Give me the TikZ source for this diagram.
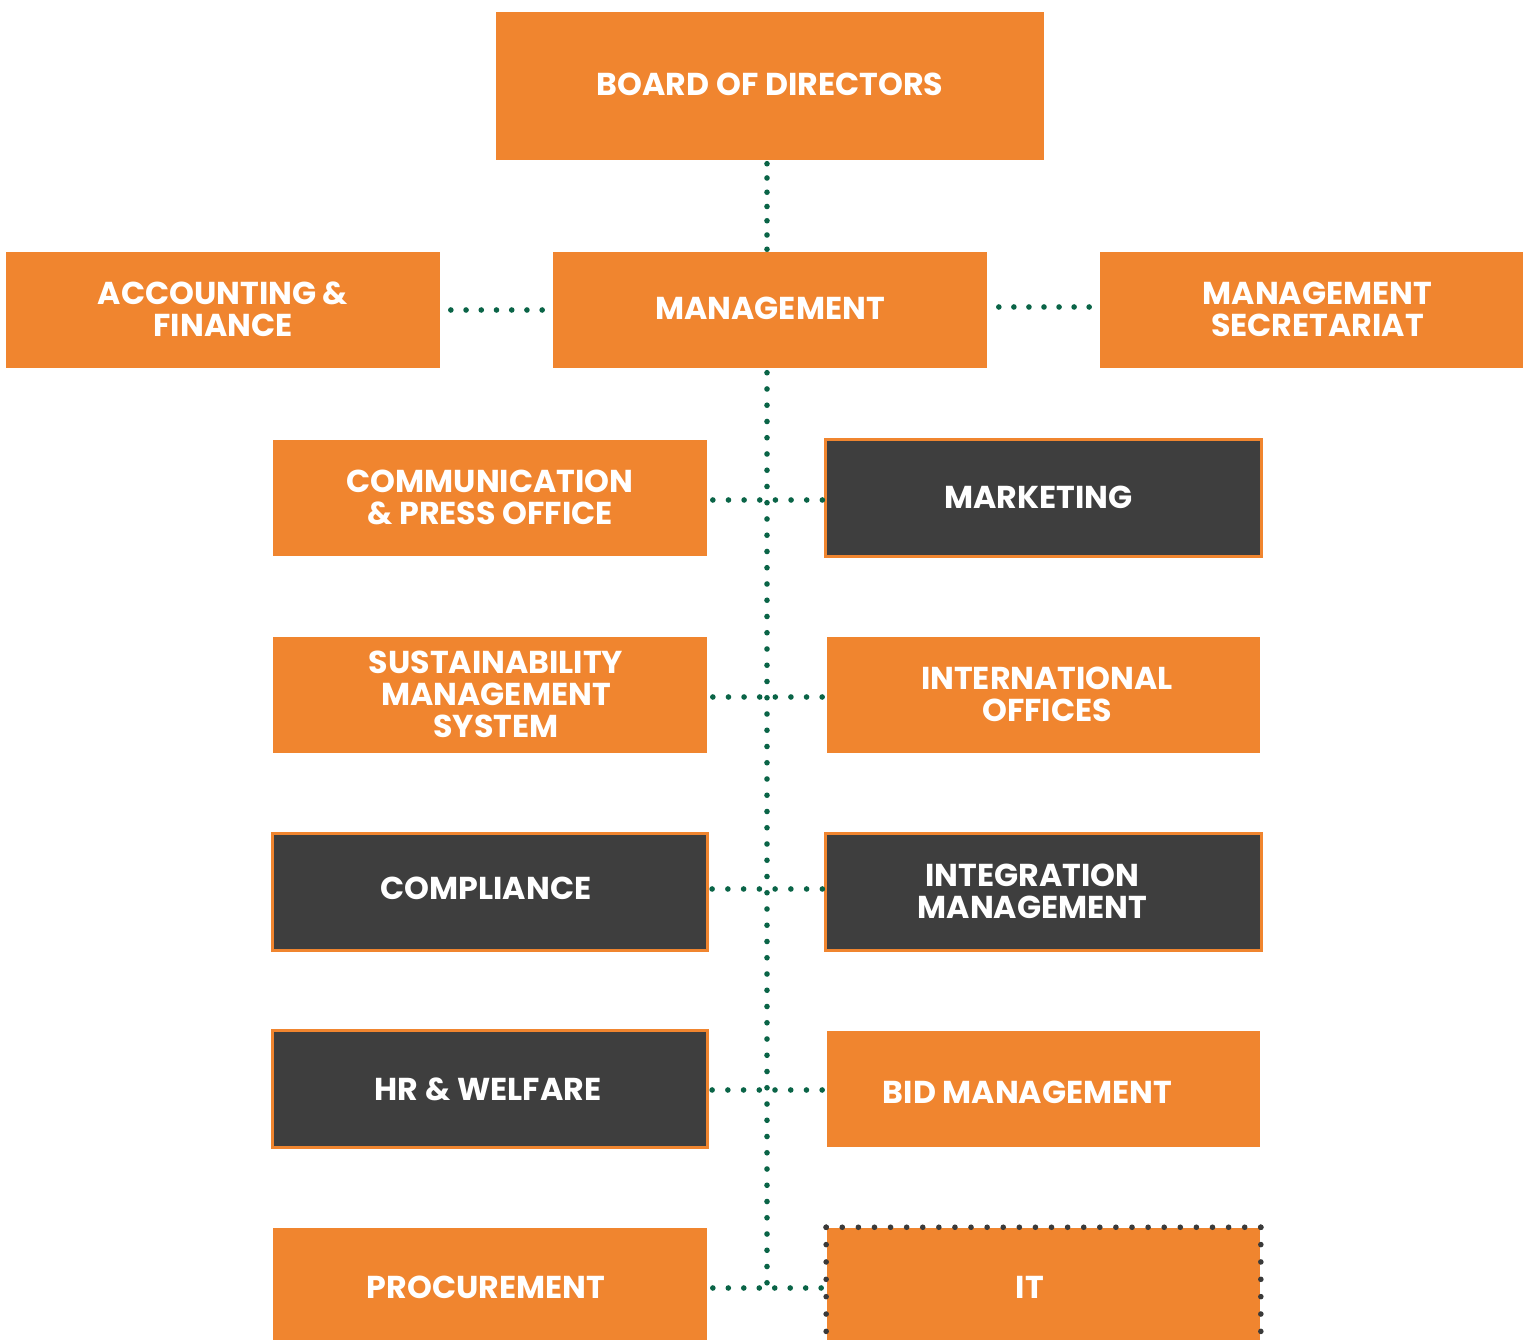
\documentclass[tikz,border=0pt]{standalone}
\usepackage{fontspec}
\setmainfont{Poppins}
\usetikzlibrary{decorations.markings}
\definecolor{boxorange}{HTML}{F0852F}
\definecolor{boxdark}{HTML}{3E3E3E}
\definecolor{linkgreen}{HTML}{0A6447}
\definecolor{dotgray}{HTML}{3A3A3A}
\begin{document}
\begin{tikzpicture}[x=0.01cm,y=-0.01cm,
  boxfont/.style={text=white, inner sep=0pt, align=center,
    font=\fontsize{9pt}{9.1pt}\selectfont\bfseries},
  box/.style={fill=boxorange, inner sep=0pt,
    minimum width=4.34cm, minimum height=1.16cm},
  darkbox/.style={box, fill=boxdark, draw=boxorange, line width=0.03cm,
    minimum width=4.35cm, minimum height=1.17cm},
  % evenly spaced round dots, the step being a fraction of the path
  dotpath/.style 2 args={decorate, decoration={markings,
    mark=between positions 0 and 1 step #1 with {\fill[#2] (0,0) circle (0.028cm);}}},
  link/.style={dotpath={#1}{linkgreen}},
  frame/.style={dotpath={#1}{dotgray}}]
\useasboundingbox (0,0) rectangle (1523,1340);
\clip (0,0) rectangle (1523,1340);

% top levels
\node[box, minimum width=5.48cm, minimum height=1.48cm,
  label={[boxfont, yshift=0.02cm]center:BOARD OF DIRECTORS}] (board) at (770,86) {};
\node[box, label={[boxfont, yshift=0.01cm]center:ACCOUNTING \&\\FINANCE}] (acc) at (223,310) {};
\node[box, label={[boxfont, yshift=0.02cm]center:MANAGEMENT}] (mgmt) at (770,310) {};
\node[box, minimum width=4.23cm,
  label={[boxfont, xshift=0.06cm, yshift=0.01cm]center:MANAGEMENT\\SECRETARIAT}] (sec) at (1311.5,310) {};

% departments, left column
\node[box, label={[boxfont, yshift=0.01cm]center:COMMUNICATION\\\& PRESS OFFICE}] (comm) at (490,498) {};
\node[box, label={[boxfont, xshift=0.06cm, yshift=0.01cm]center:SUSTAINABILITY\\MANAGEMENT\\SYSTEM}] (sust) at (490,695) {};
\node[darkbox, label={[boxfont, xshift=-0.04cm, yshift=0.04cm]center:COMPLIANCE}] (compl) at (490,892) {};
\node[darkbox, label={[boxfont, xshift=-0.02cm]center:HR \& WELFARE}] (hr) at (490,1089) {};
\node[box, minimum height=1.2cm, label={[boxfont, xshift=-0.04cm, yshift=0.01cm]center:PROCUREMENT}] (proc) at (490,1288) {};

% departments, right column
\node[darkbox, label={[boxfont, xshift=-0.05cm, yshift=0.01cm]center:MARKETING}] (mkt) at (1043.5,498) {};
\node[box, minimum width=4.33cm, label={[boxfont, xshift=0.035cm, yshift=0.01cm]center:INTERNATIONAL\\OFFICES}] (intl) at (1043.5,695) {};
\node[darkbox, label={[boxfont, xshift=-0.11cm, yshift=0.01cm]center:INTEGRATION\\MANAGEMENT}] (integ) at (1043.5,892) {};
\node[box, minimum width=4.33cm, label={[boxfont, xshift=-0.16cm, yshift=-0.03cm]center:BID MANAGEMENT}] (bid) at (1043.5,1089) {};
\node[box, minimum width=4.33cm, minimum height=1.2cm, label={[boxfont, xshift=-0.135cm, yshift=0.01cm]center:IT}] (it) at (1043.5,1288) {};
\path[frame=0.03703] (it.north west) -- (it.north east);
\path[frame=0.14285] (it.north west) -- (it.south west);
\path[frame=0.14285] (it.north east) -- (it.south east);

% reporting lines
\coordinate (trunk) at (767,0);
\coordinate (trunkend) at (767,1283);
\path[link=0.16666] ([yshift=-0.03cm]board.south -| trunk) -- ([yshift=0.02cm]mgmt.north -| trunk);
\path[link=0.01785] ([yshift=-0.04cm]mgmt.south -| trunk) -- (trunkend);
\path[link=0.16666] ([xshift=0.1cm]acc.east) -- ([xshift=-0.1cm]mgmt.west);
\path[link=0.16666] ([xshift=0.11cm, yshift=0.03cm]mgmt.east) -- ([xshift=-0.1cm, yshift=0.03cm]sec.west);
\path[link=0.14285] ([xshift=0.05cm, yshift=-0.02cm]comm.east) -- ([xshift=-0.02cm, yshift=-0.02cm]mkt.west);
\path[link=0.14285] ([xshift=0.05cm, yshift=-0.02cm]sust.east) -- ([xshift=-0.04cm, yshift=-0.02cm]intl.west);
\path[link=0.14285] ([xshift=0.03cm, yshift=0.03cm]compl.east) -- ([xshift=-0.02cm, yshift=0.03cm]integ.west);
\path[link=0.14285] ([xshift=0.03cm, yshift=-0.01cm]hr.east) -- ([xshift=-0.04cm, yshift=-0.01cm]bid.west);
\path[link=0.14285] ([xshift=0.05cm]proc.east) -- ([xshift=-0.05cm]it.west);
\end{tikzpicture}
\end{document}
